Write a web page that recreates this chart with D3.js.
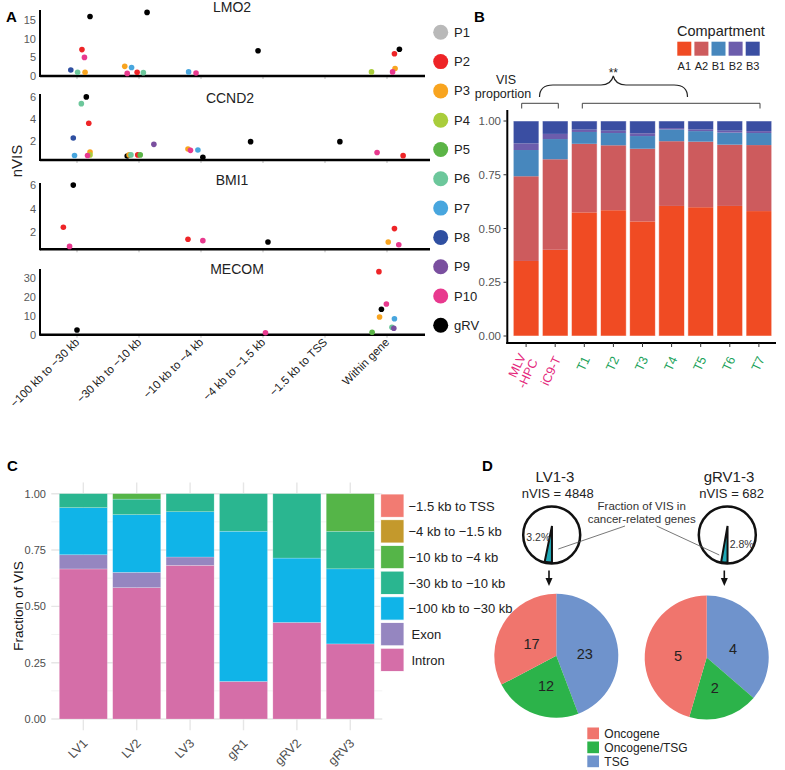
<!DOCTYPE html>
<html><head><meta charset="utf-8">
<script src="https://cdn.jsdelivr.net/npm/d3@7"></script>
<style>body{margin:0;background:#fff}svg{font-family:"Liberation Sans",Arial,sans-serif}</style>
</head><body><script>
// ---------------- DATA ----------------
// Panel A
const categoriesA = ["\u2212100 kb to \u221230 kb","\u221230 kb to \u221210 kb","\u221210 kb to \u22124 kb","\u22124 kb to \u22121.5 kb","\u22121.5 kb to TSS","Within gene"];
const patients = ["P1","P2","P3","P4","P5","P6","P7","P8","P9","P10","gRV"];
const patientColors = ["#b9b9b9","#ee2427","#f8a41f","#a9cd3b","#5bb446","#6cc79b","#48a6de","#2f4fa1","#7a4f9f","#e8398e","#000000"];
const genes = ["LMO2","CCND2","BMI1","MECOM"];
const ticksLMO2 = [0,5,10,15];
const ticksCCND2 = [2,4,6];
const ticksBMI1 = [2,4,6];
const ticksMECOM = [0,10,20,30];
// [category index, jitter (category units), nVIS, patient]
const dotsLMO2 = [
 [0,-0.10,1.6,"P8"],[0,0.01,1.0,"P6"],[0,0.08,7.1,"P2"],[0,0.12,5.0,"P10"],[0,0.13,1.0,"P3"],[0,0.21,16,"gRV"],
 [1,-0.23,2.6,"P3"],[1,-0.19,0.7,"P10"],[1,-0.12,2.3,"P7"],[1,-0.03,1.0,"P2"],[1,0.07,0.9,"P6"],[1,0.13,17.1,"gRV"],
 [2,-0.20,1.1,"P7"],[2,-0.08,0.8,"P10"],
 [3,-0.08,6.8,"gRV"],
 [5,-0.25,1.1,"P4"],[5,0.13,2.0,"P3"],[5,0.09,1.1,"P10"],[5,0.12,6.0,"P2"],[5,0.20,7.2,"gRV"]
];
const dotsCCND2 = [
 [0,-0.06,2.27,"P8"],[0,-0.04,0.7,"P7"],[0,0.07,5.36,"P6"],[0,0.15,5.97,"gRV"],[0,0.19,3.6,"P2"],[0,0.21,1.0,"P3"],[0,0.21,0.75,"P4"],[0,0.17,0.7,"P10"],
 [1,-0.19,0.65,"gRV"],[1,-0.16,0.75,"P3"],[1,-0.13,0.75,"P6"],[1,-0.02,0.75,"P2"],[1,0.02,0.75,"P5"],[1,0.24,1.7,"P9"],
 [2,-0.21,1.28,"P3"],[2,-0.17,1.16,"P10"],[2,-0.05,1.19,"P7"],[2,0.03,0.53,"gRV"],
 [3,-0.20,1.94,"gRV"],
 [4,0.24,1.94,"gRV"],
 [5,-0.16,0.96,"P10"],[5,0.26,0.68,"P2"]
];
const dotsBMI1 = [
 [0,-0.22,2.38,"P2"],[0,-0.12,0.72,"P10"],[0,-0.06,6.03,"gRV"],
 [2,-0.21,1.34,"P2"],[2,0.03,1.22,"P10"],
 [3,0.08,1.1,"gRV"],
 [5,0.02,1.1,"P3"],[5,0.12,2.26,"P2"],[5,0.19,0.87,"P10"]
];
const dotsMECOM = [
 [0,0.0,2.5,"gRV"],
 [3,0.04,1.0,"P10"],
 [5,-0.13,33.2,"P2"],[5,-0.01,16.2,"P10"],[5,-0.09,13.4,"gRV"],[5,-0.12,9.3,"P3"],[5,0.12,8.4,"P7"],[5,0.08,3.9,"P6"],[5,0.11,3.4,"P9"],[5,-0.24,1.3,"P5"]
];

// Panel B
const samplesB = ["MLV|-HPC","iC9-T","T1","T2","T3","T4","T5","T6","T7"];
const sampleColorsB = ["#e4287c","#e4287c","#1ba25a","#1ba25a","#1ba25a","#1ba25a","#1ba25a","#1ba25a","#1ba25a"];
const compartments = ["A1","A2","B1","B2","B3"];
const compColors = ["#f04b23","#cd5b5d","#4787bd","#6c5dac","#3a4ea2"];
const valsA1 = [0.349,0.401,0.575,0.585,0.533,0.605,0.599,0.605,0.581];
const valsA2 = [0.394,0.421,0.319,0.302,0.338,0.301,0.305,0.285,0.307];
const valsB1 = [0.122,0.094,0.055,0.057,0.059,0.055,0.049,0.056,0.056];
const valsB2 = [0.031,0.024,0.011,0.011,0.013,0.006,0.008,0.009,0.009];
const valsB3 = [0.104,0.060,0.040,0.045,0.057,0.033,0.039,0.045,0.047];
const ticksB = [0,0.25,0.5,0.75,1];

// Panel C
const samplesC = ["LV1","LV2","LV3","gR1","gRV2","gRV3"];
const regionsC = ["\u22121.5 kb to TSS","\u22124 kb to \u22121.5 kb","\u221210 kb to \u22124 kb","\u221230 kb to \u221210 kb","\u2212100 kb to \u221230 kb","Exon","Intron"];
const regionColors = ["#f27b72","#c4992c","#55b548","#2ab690","#10b4e8","#9586c0","#d56ea8"];
const fracIntron = [0.666,0.583,0.682,0.1667,0.4286,0.3333];
const fracExon   = [0.063,0.068,0.037,0,0,0];
const frac100_30 = [0.209,0.256,0.201,0.6667,0.2857,0.3333];
const frac30_10  = [0.062,0.069,0.080,0.1667,0.2857,0.1667];
const frac10_4   = [0,0.024,0,0,0,0.1667];
const frac4_15   = [0,0,0,0,0,0];
const frac15_TSS = [0,0,0,0,0,0];
const ticksC = [0,0.25,0.5,0.75,1];

// Panel D
const pieCats = ["Oncogene","Oncogene/TSG","TSG"];
const pieColors = ["#f0756d","#2cb34a","#6f93cc"];
const countsLV = [17,12,23];
const countsGRV = [5,2,4];
const groupsD = ["LV1-3","gRV1-3"];
const nVIS = [4848,682];
const cancerFrac = [0.032,0.028];

// ---------------- DRAW ----------------
const svg = d3.select("body").append("svg").attr("width",785).attr("height",770);
const colorP = d3.scaleOrdinal().domain(patients).range(patientColors);

// ===== Panel A =====
svg.append("text").attr("x",6).attr("y",22).attr("font-size",15).attr("font-weight","bold").text("A");
const xA = d3.scaleLinear().domain([0,5]).range([77,387]);
const layoutA = [
 {gene:"LMO2", dots:dotsLMO2, ticks:ticksLMO2, dom:[0,17.74], top:10, base:76, xEnd:425, tx:232, ty:12},
 {gene:"CCND2", dots:dotsCCND2, ticks:ticksCCND2, dom:[0.29,6.23], top:94, base:160, xEnd:430, tx:230, ty:103},
 {gene:"BMI1", dots:dotsBMI1, ticks:ticksBMI1, dom:[0.47,6.21], top:183, base:249.3, xEnd:430, tx:232, ty:185},
 {gene:"MECOM", dots:dotsMECOM, ticks:ticksMECOM, dom:[0,34.6], top:269, base:334.7, xEnd:425, tx:237, ty:274}
];
layoutA.forEach(L=>{
  const y = d3.scaleLinear().domain(L.dom).range([L.base,L.top]);
  const g = svg.append("g");
  g.append("text").attr("x",L.tx).attr("y",L.ty).attr("text-anchor","middle").attr("font-size",14).attr("fill","#222").text(L.gene);
  g.selectAll("line.xt").data(categoriesA).join("line")
    .attr("x1",(d,i)=>xA(i)).attr("x2",(d,i)=>xA(i)).attr("y1",L.base).attr("y2",L.base+3)
    .attr("stroke","#bbb").attr("stroke-width",1);
  g.append("line").attr("x1",40).attr("x2",L.xEnd).attr("y1",L.base).attr("y2",L.base).attr("stroke","#000").attr("stroke-width",2.5);
  g.append("line").attr("x1",40).attr("x2",40).attr("y1",L.top).attr("y2",L.base+1).attr("stroke","#000").attr("stroke-width",2);
  g.selectAll("text.yt").data(L.ticks).join("text")
    .attr("x",36).attr("y",d=>y(d)+4).attr("text-anchor","end").attr("font-size",11).attr("fill","#5a5a5a").text(d=>d);
  g.selectAll("circle").data(L.dots).join("circle")
    .attr("cx",d=>xA(d[0]+d[1])).attr("cy",d=>y(d[2])).attr("r",2.8).attr("fill",d=>colorP(d[3]));
});
svg.append("g").selectAll("text").data(categoriesA).join("text")
  .attr("transform",(d,i)=>`translate(${xA(i)+3},${343}) rotate(-45)`)
  .attr("text-anchor","end").attr("font-size",11.5).attr("fill","#222").text(d=>d);
svg.append("text").attr("transform","translate(22,161) rotate(-90)").attr("text-anchor","middle").attr("font-size",15).attr("fill","#222").text("nVIS");
const legA = svg.append("g");
patients.forEach((p,i)=>{
  legA.append("circle").attr("cx",440.7).attr("cy",32.3+29.3*i).attr("r",7.5).attr("fill",patientColors[i]);
  legA.append("text").attr("x",454).attr("y",32.3+29.3*i+4.5).attr("font-size",13).attr("fill","#222").text(p);
});

// ===== Panel B =====
svg.append("text").attr("x",474).attr("y",22).attr("font-size",15).attr("font-weight","bold").text("B");
const yB = d3.scaleLinear().domain([0,1]).range([336,121]);
const xB = d3.scaleBand().domain(samplesB).range([509.8,775.2]).paddingInner(0.12).paddingOuter(0.12);
const tableB = samplesB.map((s,i)=>({s, A1:valsA1[i],A2:valsA2[i],B1:valsB1[i],B2:valsB2[i],B3:valsB3[i]}));
const stackB = d3.stack().keys(compartments)(tableB);
const gB = svg.append("g");
stackB.forEach((layer,k)=>{
  gB.selectAll(null).data(layer).join("rect")
    .attr("x",d=>xB(d.data.s)).attr("width",xB.bandwidth())
    .attr("y",d=>yB(d[1])).attr("height",d=>yB(d[0])-yB(d[1]))
    .attr("fill",compColors[k]);
});
gB.selectAll("rect.o").data(samplesB).join("rect").attr("x",d=>xB(d)).attr("width",xB.bandwidth())
  .attr("y",yB(1)).attr("height",yB(0)-yB(1)).attr("fill","none").attr("stroke","#fff").attr("stroke-opacity",0.6).attr("stroke-width",0.8);
gB.append("line").attr("x1",507.3).attr("x2",507.3).attr("y1",110).attr("y2",344).attr("stroke","#000").attr("stroke-width",2);
gB.append("line").attr("x1",506.3).attr("x2",776).attr("y1",343).attr("y2",343).attr("stroke","#000").attr("stroke-width",2);
gB.selectAll("line.t").data(samplesB).join("line").attr("x1",d=>xB(d)+xB.bandwidth()/2).attr("x2",d=>xB(d)+xB.bandwidth()/2)
  .attr("y1",343).attr("y2",347).attr("stroke","#333");
gB.selectAll("line.yt").data(ticksB).join("line").attr("x1",503.5).attr("x2",507).attr("y1",d=>yB(d)).attr("y2",d=>yB(d)).attr("stroke","#333");
gB.selectAll("text.yt").data(ticksB).join("text").attr("x",501).attr("y",d=>yB(d)+4).attr("text-anchor","end")
  .attr("font-size",11.5).attr("fill","#555").text(d=>d3.format(".2f")(d));
samplesB.forEach((s,i)=>{
  const cx = xB(s)+xB.bandwidth()/2;
  const parts = s.split("|");
  const t = gB.append("text").attr("transform",`translate(${cx+2},${357}) rotate(-65)`).attr("text-anchor","end")
    .attr("font-size",12.5).attr("fill",sampleColorsB[i]);
  const off = -(parts.length-1)*6.5;
  parts.forEach((p,j)=>t.append("tspan").attr("x",0).attr("y",off+j*13).attr("dy","0.35em").text(p));
});
gB.append("text").attr("x",677).attr("y",36).attr("font-size",14.5).attr("fill","#222").text("Compartment");
compartments.forEach((c,i)=>{
  const x0 = 677.3 + i*17.1;
  gB.append("rect").attr("x",x0).attr("y",41.7).attr("width",14).attr("height",14).attr("fill",compColors[i]);
  gB.append("text").attr("x",x0+7).attr("y",70).attr("text-anchor","middle").attr("font-size",11).attr("fill","#222").text(c);
});
gB.append("text").attr("x",506).attr("y",84).attr("text-anchor","middle").attr("font-size",12.5).attr("fill","#222").text("VIS");
gB.append("text").attr("x",503).attr("y",98).attr("text-anchor","middle").attr("font-size",12.5).attr("fill","#222").text("proportion");
gB.append("path").attr("d","M521.7,108.5V103.3H558.3V108.5").attr("fill","none").attr("stroke","#444").attr("stroke-width",1);
gB.append("path").attr("d","M582.3,108.5V103.3H760V108.5").attr("fill","none").attr("stroke","#444").attr("stroke-width",1);
gB.append("path").attr("d","M539.5,97 Q539.5,85 553,85 L601,85 Q611,85 613.3,76 Q615.5,85 626,85 L674,85 Q687.5,85 687.5,97")
  .attr("fill","none").attr("stroke","#222").attr("stroke-width",1.2);
gB.append("text").attr("x",613.3).attr("y",77).attr("text-anchor","middle").attr("font-size",12).attr("fill","#222").text("**");

// ===== Panel C =====
svg.append("text").attr("x",7).attr("y",471).attr("font-size",15).attr("font-weight","bold").text("C");
const yC = d3.scaleLinear().domain([0,1]).range([719,493.7]);
const xC = d3.scaleBand().domain(samplesC).range([51.3,382.3]).paddingInner(0.1).paddingOuter(0.15);
const gC = svg.append("g");
const minorC = [0.125,0.375,0.625,0.875];
gC.selectAll("line.mi").data(minorC).join("line").attr("x1",51.3).attr("x2",382.3).attr("y1",d=>yC(d)).attr("y2",d=>yC(d)).attr("stroke","#f3f3f3").attr("stroke-width",1);
gC.selectAll("line.ma").data(ticksC).join("line").attr("x1",51.3).attr("x2",382.3).attr("y1",d=>yC(d)).attr("y2",d=>yC(d)).attr("stroke","#e6e6e6").attr("stroke-width",1.4);
gC.selectAll("line.v").data(samplesC).join("line").attr("x1",d=>xC(d)+xC.bandwidth()/2).attr("x2",d=>xC(d)+xC.bandwidth()/2)
  .attr("y1",yC(1.05)).attr("y2",yC(-0.05)).attr("stroke","#e6e6e6").attr("stroke-width",1.4);
const keysC = ["Intron","Exon","m100","m30","m10","m4","m15"];
const seriesC = [fracIntron,fracExon,frac100_30,frac30_10,frac10_4,frac4_15,frac15_TSS];
const colorOfKey = {Intron:regionColors[6],Exon:regionColors[5],m100:regionColors[4],m30:regionColors[3],m10:regionColors[2],m4:regionColors[1],m15:regionColors[0]};
const tableC = samplesC.map((s,i)=>{const o={s}; keysC.forEach((k,j)=>o[k]=seriesC[j][i]); return o;});
d3.stack().keys(keysC)(tableC).forEach(layer=>{
  gC.selectAll(null).data(layer.filter(d=>d[1]-d[0]>0)).join("rect")
    .attr("x",d=>xC(d.data.s)).attr("width",xC.bandwidth())
    .attr("y",d=>yC(d[1])).attr("height",d=>yC(d[0])-yC(d[1]))
    .attr("fill",colorOfKey[layer.key]).attr("stroke","#fff").attr("stroke-opacity",0.35).attr("stroke-width",0.6);
});
gC.selectAll("text.yt").data(ticksC).join("text").attr("x",46).attr("y",d=>yC(d)+4).attr("text-anchor","end")
  .attr("font-size",11).attr("fill","#4d4d4d").text(d=>d3.format(".2f")(d));
gC.selectAll("text.xt").data(samplesC).join("text")
  .attr("transform",d=>`translate(${xC(d)+xC.bandwidth()/2+5},${744}) rotate(-45)`)
  .attr("text-anchor","end").attr("font-size",12.5).attr("fill","#4d4d4d").text(d=>d);
gC.append("text").attr("transform","translate(23,606) rotate(-90)").attr("text-anchor","middle").attr("font-size",13.5).attr("fill","#111").text("Fraction of VIS");
regionsC.forEach((r,i)=>{
  const y0 = 494 + i*25.7;
  gC.append("rect").attr("x",380.7).attr("y",y0).attr("width",23.3).attr("height",23.3).attr("fill",regionColors[i]).attr("stroke","#fff").attr("stroke-width",0.8);
  gC.append("text").attr("x",i>=5?411.5:408.5).attr("y",y0+16.5).attr("font-size",13).attr("fill","#222").text(r);
});

// ===== Panel D =====
svg.append("text").attr("x",482).attr("y",471).attr("font-size",15).attr("font-weight","bold").text("D");
const gD = svg.append("g");
const centersSmall = [[551.7,535],[727.3,535]];
const titleX = [555,729], nvisX = [557.7,731.7];
const pctPos = [[538.3,540.5],[741.7,548]];
groupsD.forEach((gname,i)=>{
  gD.append("text").attr("x",titleX[i]).attr("y",481.5).attr("text-anchor","middle").attr("font-size",15).attr("fill","#222").text(gname);
  gD.append("text").attr("x",nvisX[i]).attr("y",497.5).attr("text-anchor","middle").attr("font-size",13).attr("fill","#222").text("nVIS = "+nVIS[i]);
  const [cx,cy] = centersSmall[i];
  gD.append("circle").attr("cx",cx).attr("cy",cy).attr("r",28.5).attr("fill","#fff").attr("stroke","#111").attr("stroke-width",2.5);
  const a0 = Math.PI, a1 = Math.PI + cancerFrac[i]*2*Math.PI;
  const mid = (a0+a1)/2;
  gD.append("path").attr("transform",`translate(${cx - 9*Math.sin(mid)*0.3},${cy + 9*Math.cos(mid)})`)
    .attr("d",d3.arc().innerRadius(0).outerRadius(27.5+9).startAngle(a0).endAngle(a1)())
    .attr("fill","#1fa9b6").attr("stroke","#111").attr("stroke-width",2).attr("stroke-linejoin","miter");
  gD.append("text").attr("x",pctPos[i][0]).attr("y",pctPos[i][1]).attr("text-anchor","middle").attr("font-size",10.5).attr("fill","#333").text(d3.format(".1%")(cancerFrac[i]));
  const ax = [549,724.3][i];
  gD.append("line").attr("x1",ax).attr("x2",ax).attr("y1",570.5).attr("y2",580).attr("stroke","#111").attr("stroke-width",1.6);
  gD.append("path").attr("d",`M${ax-3.5},578 L${ax+3.5},578 L${ax},586 Z`).attr("fill","#111");
});
gD.append("text").attr("x",641.7).attr("y",510).attr("text-anchor","middle").attr("font-size",11.5).attr("fill","#333").text("Fraction of VIS in");
gD.append("text").attr("x",641.7).attr("y",523).attr("text-anchor","middle").attr("font-size",11.5).attr("fill","#333").text("cancer-related genes");
gD.append("line").attr("x1",558.3).attr("y1",549).attr("x2",625).attr("y2",526).attr("stroke","#555").attr("stroke-width",0.8);
gD.append("line").attr("x1",656.7).attr("y1",526).attr("x2",719.3).attr("y2",555).attr("stroke","#555").attr("stroke-width",0.8);

const pieOrder = [2,1,0];
const bigPies = [{c:[556.3,655.8],counts:countsLV},{c:[706.7,657.5],counts:countsGRV}];
bigPies.forEach(P=>{
  const data = pieOrder.map(k=>({k,v:P.counts[k]}));
  const arcs = d3.pie().sort(null).value(d=>d.v)(data);
  const arc = d3.arc().innerRadius(0).outerRadius(62);
  const lab = d3.arc().innerRadius(29).outerRadius(29);
  const g = gD.append("g").attr("transform",`translate(${P.c[0]},${P.c[1]})`);
  g.selectAll("path").data(arcs).join("path").attr("d",arc).attr("fill",d=>pieColors[d.data.k]);
  g.selectAll("text").data(arcs).join("text")
    .attr("transform",d=>{const c=lab.centroid(d); return `translate(${c[0]},${c[1]+3})`;})
    .attr("text-anchor","middle").attr("dy","0.35em").attr("font-size",14.5).attr("fill","#222").text(d=>d.data.v);
});
pieCats.forEach((c,i)=>{
  const y0 = [727.5,741.5,755.5][i];
  gD.append("rect").attr("x",587.3).attr("y",y0).attr("width",11.7).attr("height",11.7).attr("fill",pieColors[i]);
  gD.append("text").attr("x",604.3).attr("y",y0+10).attr("font-size",12).attr("fill","#222").text(c);
});
</script></body></html>
